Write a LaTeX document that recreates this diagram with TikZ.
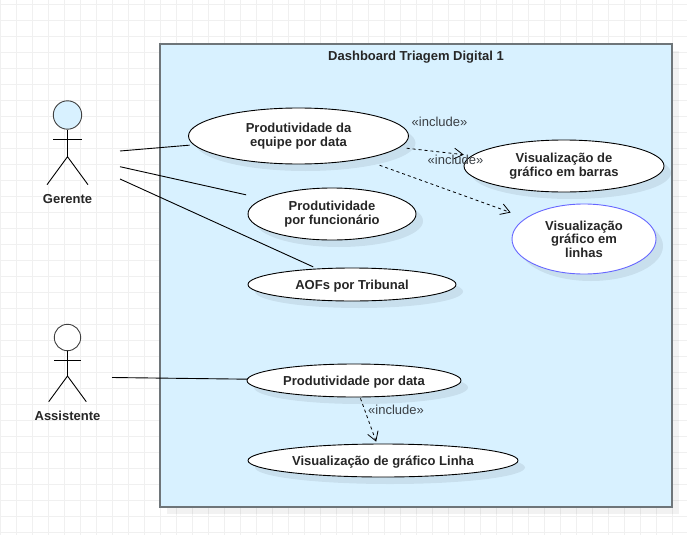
\documentclass[tikz,border=0pt]{standalone}
\usepackage{fontspec}
\setmainfont{Liberation Sans}
\usetikzlibrary{arrows.meta,shapes.geometric,shadows}
\definecolor{boxblue}{HTML}{D8F1FF}
\definecolor{boxline}{HTML}{6E7579}
\definecolor{gridline}{HTML}{F0F0F0}
\definecolor{usecaseblue}{HTML}{6666FF}
\definecolor{inclgray}{HTML}{3A3F44}

\begin{document}
\begin{tikzpicture}[
    x=1pt, y=-1pt,
    every node/.style={font=\fontsize{13}{13.5}\selectfont\bfseries, text=black!85},
    usecase/.style={ellipse, draw=black, line width=0.9pt, fill=white, inner sep=0pt,
                    align=center, minimum width=#1,
                    execute at begin node={\rule{0pt}{12.5pt}},
                    drop shadow={shadow xshift=7pt, shadow yshift=-7pt, fill=black, opacity=.07}},
    lines/.style={execute at begin node={\rule{0pt}{15.5pt}}},
    head/.style={circle, draw=black!75, line width=0.9pt, inner sep=0pt},
    actorname/.style={inner sep=0pt},
    incl/.style={inner sep=0pt, text=inclgray, font=\fontsize{13}{13}\selectfont},
    assoc/.style={line width=0.9pt},
    dep/.style={-{Straight Barb[length=9pt, width=11pt]}, dash pattern=on 3pt off 3pt, line width=0.8pt}
]
\useasboundingbox (0,0) rectangle (687,535);
\fill[white] (0,0) rectangle (687,535);
% grid
\foreach \gx in {0,...,42} \draw[gridline, line width=0.8pt] (16*\gx+0.5,0) -- (16*\gx+0.5,535);
\foreach \gy in {0,...,33} \draw[gridline, line width=0.8pt] (0,16*\gy+4) -- (687,16*\gy+4);
% system box
\fill[black, opacity=.05] (167,51) rectangle (679,514);
\node[rectangle, draw=boxline, line width=1.2pt, fill=boxblue, inner sep=0pt,
      minimum width=512pt, minimum height=463pt] (sistema) at (416,275.5) {};
\node[inner sep=0pt] (titulo) at (416,57) {Dashboard Triagem Digital 1};
% use cases
\node[usecase=220pt, lines, minimum height=56pt] (prodequipe) at (298.5,136) {Produtividade da\\equipe por data};
\node[usecase=168pt, lines, minimum height=52pt] (prodfunc)   at (332,214)   {Produtividade\\por funcionário};
\node[usecase=208pt, minimum height=33pt] (aofs)       at (352,284.5) {AOFs por Tribunal};
\node[usecase=200pt, lines, minimum height=52pt] (barras)     at (564,166)   {Visualização de\\gráfico em barras};
\node[usecase=144pt, lines, minimum height=70pt, draw=usecaseblue] (linhas) at (584,239) {Visualização\\gráfico em\\linhas};
\node[usecase=214pt, minimum height=33pt] (proddata)   at (354,380.5) {Produtividade por data};
\node[usecase=270pt, minimum height=33pt] (graflinha)  at (383,460.5) {Visualização de gráfico Linha};
% gerente
\node[head, fill=boxblue, minimum size=28.4pt] (gerente) at (67.5,115) {};
\coordinate (gerarml) at (53,139.3);
\coordinate (gerarmr) at (82,139.3);
\coordinate (gerhip)  at (67.5,156.7);
\coordinate (gerfootl) at (47,184.7);
\coordinate (gerfootr) at (88,184.7);
\draw[assoc] (gerente) -- (gerhip);
\draw[assoc] (gerarml) -- (gerarmr);
\draw[assoc] (gerfootl) -- (gerhip) -- (gerfootr);
\node[actorname] (gerentelbl) at (67.5,199) {Gerente};
% assistente
\node[head, fill=white, minimum size=26.4pt] (assistente) at (67.5,337.5) {};
\coordinate (assarml) at (54,360.3);
\coordinate (assarmr) at (81,360.3);
\coordinate (asship)  at (67.5,376);
\coordinate (assfootl) at (48.7,401.7);
\coordinate (assfootr) at (86.3,401.7);
\draw[assoc] (assistente) -- (asship);
\draw[assoc] (assarml) -- (assarmr);
\draw[assoc] (assfootl) -- (asship) -- (assfootr);
\node[actorname] (assistentelbl) at (67.5,416) {Assistente};
% associations
\coordinate (gerport1) at (120,151);
\coordinate (gerport2) at (120,166.7);
\coordinate (gerport3) at (120,179);
\coordinate (assport)  at (112,377.5);
\draw[assoc, shorten >=4pt] (gerport1) -- (prodequipe);
\draw[assoc, shorten >=17.5pt] (gerport2) -- (prodfunc);
\draw[assoc, shorten >=4pt] (gerport3) -- (aofs);
\draw[assoc] (assport) -- (proddata);
% includes
\draw[dep, shorten <=7pt, shorten >=8pt] (prodequipe) -- (barras);
\draw[dep, shorten <=18pt, shorten >=16pt] (prodequipe) -- (linhas);
\draw[dep, shorten <=1pt, shorten >=2pt] (proddata) -- (graflinha);
\node[incl] (incl1) at (439.5,122) {«include»};
\node[incl] (incl2) at (455.5,160) {«include»};
\node[incl] (incl3) at (396,410)   {«include»};
\end{tikzpicture}
\end{document}
